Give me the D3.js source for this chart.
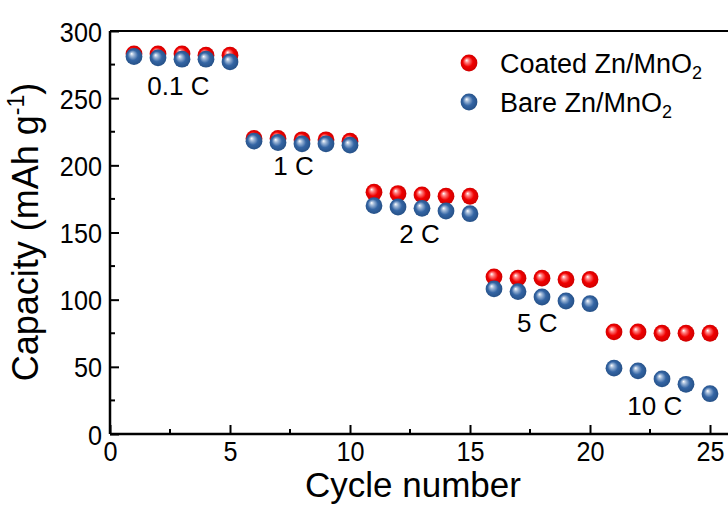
<!DOCTYPE html>
<html>
<head>
<meta charset="utf-8">
<script src="https://cdn.jsdelivr.net/npm/d3@7"></script>
<style>
  body { margin: 0; background: #fff; }
  svg { display: block; }
  svg text { font-family: "Liberation Sans", Arial, sans-serif; }
</style>
</head>
<body>
<div id="chart"></div>
<script>
const cycles = d3.range(1, 26);
const coated = [283, 283, 283, 282, 282, 220, 220, 219, 219, 218, 180, 179, 178, 177, 177, 117, 116, 116, 115, 115, 76, 76, 75, 75, 75];
const bare = [281, 280, 279, 279, 277, 218, 217, 216, 216, 215, 170, 169, 168, 166, 164, 108, 106, 102, 99, 97, 49, 47, 41, 37, 30];
const rateLabels = [
    { text: "0.1 C", x: 2.85, y: 252 },
    { text: "1 C", x: 7.65, y: 193 },
    { text: "2 C", x: 12.9, y: 142 },
    { text: "5 C", x: 17.8, y: 76 },
    { text: "10 C", x: 22.7, y: 14 }
];
const xTicks = [0, 5, 10, 15, 20, 25];
const xMinor = [2.5, 7.5, 12.5, 17.5, 22.5];
const yTicks = [0, 50, 100, 150, 200, 250, 300];
const yMinor = [25, 75, 125, 175, 225, 275];

const width = 728, height = 506;
const x = d3.scaleLinear().domain([0, 26]).range([110, 734]);
const y = d3.scaleLinear().domain([0, 300]).range([434, 31]);

const svg = d3.select("#chart").append("svg")
    .attr("width", width)
    .attr("height", height);

// sphere look gradients
const defs = svg.append("defs");
function ball(id, light, mid, dark) {
    const g = defs.append("radialGradient")
        .attr("id", id)
        .attr("cx", "50%").attr("cy", "50%").attr("r", "55%")
        .attr("fx", "35%").attr("fy", "33%");
    g.append("stop").attr("offset", "0%").attr("stop-color", "#ffffff");
    g.append("stop").attr("offset", "22%").attr("stop-color", light);
    g.append("stop").attr("offset", "55%").attr("stop-color", mid);
    g.append("stop").attr("offset", "100%").attr("stop-color", dark);
}
ball("ballRed", "#ff8080", "#f00000", "#c80000");
ball("ballBlue", "#9fb8d8", "#3465a4", "#234d82");

// frame
svg.append("line")
    .attr("x1", x(0)).attr("x2", width).attr("y1", y(300)).attr("y2", y(300))
    .attr("stroke", "#000").attr("stroke-width", 2);

// x axis
const xAxis = svg.append("g")
    .attr("transform", `translate(0,${y(0)})`)
    .attr("font-family", null)
    .call(d3.axisBottom(x).tickValues(xTicks).tickSize(-9).tickFormat(d3.format("d")));
xAxis.attr("font-family", null);
xAxis.select(".domain").attr("d", `M${x(0)},0H${width}`).attr("stroke-width", 2.5);
xAxis.selectAll(".tick line").attr("stroke-width", 2);
xAxis.selectAll(".tick text")
    .attr("font-size", 28).attr("fill", "#000")
    .attr("y", 6).attr("dy", "0.75em")
    .attr("transform", "scale(0.9,1)");
xAxis.selectAll(".minor").data(xMinor).enter()
    .append("line").attr("class", "minor")
    .attr("x1", d => x(d)).attr("x2", d => x(d)).attr("y1", 0).attr("y2", -5)
    .attr("stroke", "#000").attr("stroke-width", 2);

// y axis
const yAxis = svg.append("g")
    .attr("transform", `translate(${x(0)},0)`)
    .call(d3.axisLeft(y).tickValues(yTicks).tickSize(-9));
yAxis.attr("font-family", null);
yAxis.select(".domain").attr("d", `M0,${y(0)}V${y(300)}`).attr("stroke-width", 2.5);
yAxis.selectAll(".tick line").attr("stroke-width", 2);
yAxis.selectAll(".tick text")
    .attr("font-size", 28).attr("fill", "#000")
    .attr("x", -9).attr("dy", "0.36em")
    .attr("transform", "scale(0.9,1)");
yAxis.selectAll(".minor").data(yMinor).enter()
    .append("line").attr("class", "minor")
    .attr("x1", 0).attr("x2", 5).attr("y1", d => y(d)).attr("y2", d => y(d))
    .attr("stroke", "#000").attr("stroke-width", 2);

// axis titles
svg.append("text")
    .attr("x", 413).attr("y", 497)
    .attr("text-anchor", "middle")
    .attr("font-size", 35)
    .text("Cycle number");

const yTitle = svg.append("text")
    .attr("transform", "translate(38,232) rotate(-90)")
    .attr("text-anchor", "middle")
    .attr("font-size", 36);
yTitle.append("tspan").text("Capacity (mAh g");
yTitle.append("tspan").attr("font-size", 23).attr("dy", -14).text("-1");
yTitle.append("tspan").attr("dy", 14).text(")");

// points: coated first, bare drawn on top
const r = 8.4;
svg.append("g").selectAll("circle")
    .data(cycles.map((c, i) => ({ c, v: coated[i] })))
    .enter().append("circle")
    .attr("cx", d => x(d.c)).attr("cy", d => y(d.v)).attr("r", r)
    .attr("fill", "url(#ballRed)");
svg.append("g").selectAll("circle")
    .data(cycles.map((c, i) => ({ c, v: bare[i] })))
    .enter().append("circle")
    .attr("cx", d => x(d.c)).attr("cy", d => y(d.v)).attr("r", r)
    .attr("fill", "url(#ballBlue)");

// rate labels
svg.append("g").selectAll("text")
    .data(rateLabels)
    .enter().append("text")
    .attr("x", d => x(d.x)).attr("y", d => y(d.y))
    .attr("text-anchor", "middle")
    .attr("font-size", 26)
    .text(d => d.text);

// legend
const legendItems = [
    { name: "Coated Zn/MnO", fill: "url(#ballRed)" },
    { name: "Bare Zn/MnO", fill: "url(#ballBlue)" }
];
const legend = svg.append("g").attr("transform", "translate(469,63)");
const item = legend.selectAll("g").data(legendItems).enter().append("g")
    .attr("transform", (d, i) => `translate(0,${i * 39})`);
item.append("circle").attr("r", r).attr("fill", d => d.fill);
const lt = item.append("text").attr("x", 31).attr("y", 10).attr("font-size", 27);
lt.append("tspan").text(d => d.name);
lt.append("tspan").attr("font-size", 18).attr("dy", 6).text("2");
</script>
</body>
</html>
